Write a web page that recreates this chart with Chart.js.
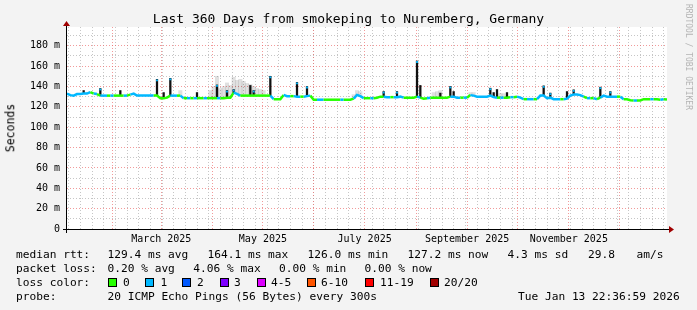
<!DOCTYPE html>
<html><head><meta charset="utf-8">
<script src="https://cdn.jsdelivr.net/npm/chart.js@4.4.1/dist/chart.umd.min.js"></script>
<style>
html,body{margin:0;padding:0;background:#f3f3f3;}
#wrap{position:relative;width:697px;height:310px;overflow:hidden;background:#f3f3f3;}
#c{position:absolute;left:0;top:0;}
.t{position:absolute;font-family:"DejaVu Sans Mono",monospace;color:#000;white-space:pre;line-height:1;font-size:11.2px;}
.sw{position:absolute;width:7px;height:7px;border:1px solid #000;}
#title{left:0;width:697px;text-align:center;top:12px;font-size:13px;}
#ylab{left:11px;top:128px;transform:translate(-50%,-50%) rotate(-90deg);font-size:11.5px;}
#wm{left:684px;top:4px;font-size:8px;color:#b4b4b4;writing-mode:vertical-rl;}
</style>
</head><body>
<div id="wrap">
<canvas id="c" width="697" height="310"></canvas>
<div class="t" id="title">Last 360 Days from smokeping to Nuremberg, Germany</div>
<div class="t" id="ylab">Seconds</div>
<div class="t" id="wm">RRDTOOL / TOBI OETIKER</div>
<div id="legend"></div>
</div>
<script>
// ---- data (2-day steps from Jan 18 2025 to Jan 13 2026) ----
const median = [
133,131.5,131,132.5,132.7,133,133,134.5,133,132.5,
131,131,131,131,131,131,131,131,131,132,
133,131,131,131,131,131,131,131,128.5,128.5,
129,131,131,131,131,128.5,128.5,128.5,128.5,128.5,
128.5,128.5,128.5,128.5,128.5,128.5,128.5,128.5,129,129,
134,132.7,131,131,131,131,131,131,131,131,
131,131,127.5,127.5,127.5,131.7,130.5,130.5,130.5,130,
130,130,130.5,131,127,127,127,127,127,127,
127,127,127,127,127,127,128,131.7,130.5,128.5,
128.5,128.5,128.5,129,130,130,129.5,129.5,129.5,129.5,
130,129,129,129,129,130,129,128,128.5,129,
129,129,129,129,129,130,130,129,129,129,
129,131.5,131,130,130,130,130,131,129.5,129,
129,129,129,129.5,129.5,130,129,127.5,127.5,127.5,
127.5,127.5,131,131,128.5,129,127.5,127.5,127.5,127.5,
128,131,132,132,131.5,130,128.5,128.5,128.5,127.5,
129,131,130,130,130,130,130,127.5,127.5,126.5,
126.2,126.2,126.2,127.5,127.5,127.5,127.5,127.5,127,127.5,
127.2
];
const loss = [
1,1,1,1,1,1,1,0,1,0,
1,1,0,1,0,0,0,1,0,1,
1,1,1,1,1,1,0,0,0,0,
0,1,1,0,1,0,1,0,1,0,
0,1,0,0,0,1,0,0,0,0,
1,1,0,0,0,0,0,0,0,0,
0,1,0,0,0,1,1,0,1,1,
0,1,1,0,0,1,1,0,0,0,
0,0,1,0,0,0,1,1,1,0,
0,1,0,0,0,1,1,0,1,1,
1,0,0,0,0,1,0,0,1,0,
0,0,0,0,0,1,1,1,0,1,
0,1,1,1,1,1,1,1,1,0,
1,0,0,1,0,1,1,0,1,1,
0,1,1,1,1,1,1,1,0,1,
1,1,1,1,1,0,1,0,1,0,
1,1,1,1,1,0,1,0,0,0,
1,0,0,0,0,1,0,0,1,0,
0
];
const spikeIdx = [5,10,16,27,29,31,39,45,48,50,55,56,61,69,72,95,99,105,106,112,115,116,127,128,129,132,143,145,150,152,160,163];
const spikeTop = [136,138,136,147,134,148,134,141.5,136,137,141,136,150,144,140,135,135,165,141,133.5,140,135,138.3,134,137,134,140.6,133.5,135,136.7,139.3,135];
const spikeCap = [0,1,0,1,0,1,0,1,1,1,0,1,1,1,1,1,1,1,0,0,1,0,1,0,0,0,1,1,0,1,1,1];
const smokeIdx = [34,43,44,45,46,47,48,49,50,51,52,53,54,55,56,57,58,59,86,87,88,110,111,112,121,122,130,131];
const smokeTop = [136,136,140,150,138,140,143.5,141,149,146,147,145,143,142,140,138,137,136,132,136,135,134,135,136,134,134,133,133];
const lossColors = ['#26ff00','#00b8ff','#0059ff','#7e00ff','#dd00ff','#ff5500','#ff0000','#a10000'];
const lossNames = ['0','1','2','3','4-5','6-10','11-19','20/20'];
const yMajor = [0,20,40,60,80,100,120,140,160,180];
const yMinor = [10,30,50,70,90,110,130,150,170,190];
const monthLabels = ['March 2025','May 2025','July 2025','September 2025','November 2025'];
const labelMonthIdx = [2,4,6,8,10];
const stepDays = 2;

// ---- time axis helpers ----
const DAY = 86400000;
const t0 = Date.UTC(2025,0,18,22,36,59);
const spanDays = 360;
const monthStarts = [];
for (let m = 1; m <= 12; m++) monthStarts.push((Date.UTC(2025,m,1)-t0)/DAY);
const monthMids = labelMonthIdx.map(m => ((Date.UTC(2025,m,1)+Date.UTC(2025,m+1,1))/2 - t0)/DAY);
const weeks = [];
for (let d = (Date.UTC(2025,0,20)-t0)/DAY; d < spanDays; d += 7) weeks.push(d);

// ---- legend (HTML text) ----
const leg = document.getElementById('legend');
function txt(s,x,cy){const d=document.createElement('div');d.className='t';d.textContent=s;d.style.left=x+'px';d.style.top=(cy-6)+'px';leg.appendChild(d);return d;}
txt('median rtt:',16,254.5);
txt('129.4 ms avg',107.5,254.5);txt('164.1 ms max',207.5,254.5);txt('126.0 ms min',307.5,254.5);
txt('127.2 ms now',407.5,254.5);txt('4.3 ms sd',507.5,254.5);txt('29.8',588,254.5);txt('am/s',636.5,254.5);
txt('packet loss:',16,268.5);
txt('0.20 % avg',107.5,268.5);txt('4.06 % max',193.3,268.5);txt('0.00 % min',279,268.5);txt('0.00 % now',364.5,268.5);
txt('loss color:',16,282.5);
const swX=[108,145,182,219.5,257,307,365,430], swL=[123,160.4,197,234,271,321,380,444];
lossNames.forEach((n,i)=>{const b=document.createElement('div');b.className='sw';b.style.left=swX[i]+'px';b.style.top='278px';b.style.background=lossColors[i];leg.appendChild(b);txt(n,swL[i],282.5);});
txt('probe:',16,296.5);
txt('20 ICMP Echo Pings (56 Bytes) every 300s',107.5,296.5);
txt('Tue Jan 13 22:36:59 2026',518,296.5);

// ---- chart ----
const medianPts = median.map((v,i)=>({x:i*stepDays,y:v}));
const spikePts = spikeIdx.map((k,j)=>({x:k*stepDays,y:[median[k],spikeTop[j]]}));
const capPts = spikeIdx.map((k,j)=>spikeCap[j]?{x:k*stepDays,y:spikeTop[j]-1}:null).filter(Boolean);
const smokePts = smokeIdx.map((k,j)=>({x:k*stepDays,y:[median[k],smokeTop[j]]}));

const font = {family:'"DejaVu Sans Mono", monospace', size:10};
const frame = {
  id:'frame',
  beforeDraw(ch){const a=ch.chartArea,c=ch.ctx;c.save();c.fillStyle='#ffffff';c.fillRect(a.left,a.top,a.right-a.left,a.bottom-a.top);c.restore();},
  afterDraw(ch){
    const a=ch.chartArea,c=ch.ctx;c.save();
    c.strokeStyle='#000';c.lineWidth=1;
    c.beginPath();c.moveTo(a.left-4,a.bottom+0.5);c.lineTo(a.right+2,a.bottom+0.5);c.stroke();
    c.beginPath();c.moveTo(a.left-0.5,a.bottom+4);c.lineTo(a.left-0.5,a.top-2);c.stroke();
    c.fillStyle='#a00000';
    c.beginPath();c.moveTo(a.right+2,a.bottom-3);c.lineTo(a.right+7,a.bottom+0.5);c.lineTo(a.right+2,a.bottom+4);c.closePath();c.fill();
    c.beginPath();c.moveTo(a.left-4,a.top-1);c.lineTo(a.left-0.5,a.top-6);c.lineTo(a.left+3,a.top-1);c.closePath();c.fill();
    c.restore();
  }
};
const grid = (color)=>({color:color,lineWidth:1,drawTicks:false});
const minorCol = 'rgba(160,160,160,0.6)', majorCol = 'rgba(235,100,100,0.65)';
new Chart(document.getElementById('c'),{
  type:'line',
  data:{datasets:[
    {type:'bar',data:smokePts,backgroundColor:'rgba(0,0,0,0.12)',barThickness:3.4,grouped:false,order:4},
    {type:'bar',data:spikePts,backgroundColor:'#111111',barThickness:1.6,grouped:false,order:3},
    {type:'line',data:medianPts,borderWidth:2.5,pointRadius:0,tension:0,
      segment:{borderColor:ctx=>lossColors[loss[ctx.p0DataIndex]]},borderColor:lossColors[0],order:2},
    {type:'scatter',data:capPts,pointStyle:'rect',pointRadius:1.3,backgroundColor:lossColors[1],borderWidth:0,order:1}
  ]},
  options:{
    responsive:false,animation:false,devicePixelRatio:1,
    layout:{padding:{top:27,right:30,left:0,bottom:0}},
    plugins:{legend:{display:false},tooltip:{enabled:false}},
    scales:{
      xw:{type:'linear',position:'bottom',min:0,max:spanDays,offset:false,z:-1,
        afterBuildTicks:s=>{s.ticks=weeks.map(v=>({value:v}));},
        grid:grid(minorCol),border:{display:false,dash:[1,2]},ticks:{display:false},afterFit:s=>{s.height=0;}},
      x:{type:'linear',position:'bottom',min:0,max:spanDays,offset:false,
        afterBuildTicks:s=>{s.ticks=monthStarts.map(v=>({value:v}));},
        grid:grid(majorCol),border:{display:false,dash:[1,2]},ticks:{display:false},afterFit:s=>{s.height=0;}},
      xl:{type:'linear',position:'bottom',min:0,max:spanDays,offset:false,
        afterBuildTicks:s=>{s.ticks=monthMids.map(v=>({value:v}));},
        grid:{display:false,drawTicks:false},border:{display:false},
        ticks:{autoSkip:false,maxRotation:0,padding:4,color:'#000',font:font,callback:(v,i)=>monthLabels[i]},
        afterFit:s=>{s.height=81;}},
      yw:{type:'linear',position:'left',min:0,max:198.4,z:-1,
        afterBuildTicks:s=>{s.ticks=yMinor.map(v=>({value:v}));},
        grid:grid(minorCol),border:{display:false,dash:[1,2]},ticks:{display:false},afterFit:s=>{s.width=0;}},
      y:{type:'linear',position:'left',min:0,max:198.4,
        afterBuildTicks:s=>{s.ticks=yMajor.map(v=>({value:v}));},
        grid:grid(majorCol),border:{display:false,dash:[1,2]},
        ticks:{padding:7,color:'#000',font:font,callback:v=>v===0?'0':v+' m'},
        afterFit:s=>{s.width=67;}}
    }
  },
  plugins:[frame]
});
</script>
</body></html>
